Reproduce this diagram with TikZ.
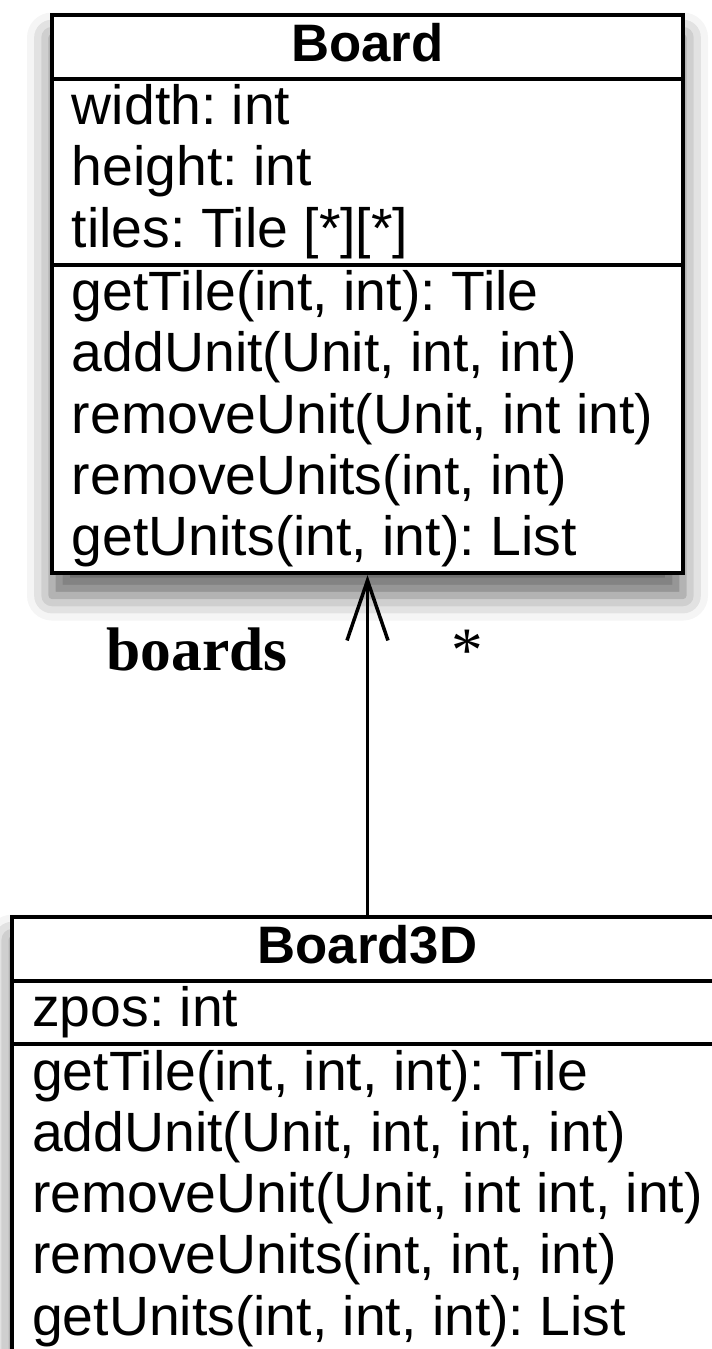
\documentclass[tikz,border=0pt]{standalone}
\usepackage{fontspec}
\setmainfont{Liberation Serif}
\setsansfont{Liberation Sans}
\usetikzlibrary{shapes.multipart, arrows.meta, positioning, shadows.blur}

\frenchspacing
\newcommand{\rowstrut}{\rule[-0.31cm]{0pt}{1.19cm}}

\tikzset{
  umlclass/.style={rectangle split, rectangle split parts=3, draw=black, line width=0.08cm, fill=white,
    inner xsep=0.4cm, inner ysep=0pt, rectangle split part align={center,left,left}, align=left,
    font=\sffamily\fontsize{31.5}{33.8}\selectfont,
    blur shadow={shadow xshift=0cm, shadow yshift=-0.45cm, shadow blur radius=0.5cm, shadow opacity=60}},
  classname/.style={font=\sffamily\bfseries\fontsize{30}{33.8}\selectfont},
  assoc/.style={line width=0.07cm, -{Straight Barb[length=1.2cm, width=0.82cm]}},
  rolelabel/.style={inner sep=0pt, font=\bfseries\fontsize{35}{40}\selectfont},
  multlabel/.style={inner sep=0pt, font=\fontsize{36}{40}\selectfont},
}

\begin{document}
\begin{tikzpicture}
\useasboundingbox (0,0) rectangle (14.22,-26.98);

% classes
\node (board) [umlclass, minimum width=12.62cm, anchor=north] at (7.35,-0.26) {%
  \rowstrut{\fontsize{30}{33.8}\selectfont\bfseries Board}
  \nodepart{second}
  \rowstrut width: int\\
  \rowstrut height: int\\
  \rowstrut tiles: Tile [*][*]
  \nodepart{third}
  \rowstrut getTile(int, int): Tile\\
  \rowstrut addUnit(Unit, int, int)\\
  \rowstrut removeUnit(Unit, int int)\\
  \rowstrut removeUnits(int, int)\\
  \rowstrut getUnits(int, int): List};
\node (board3d) [umlclass, minimum width=14.16cm, below=6.8cm of board] {%
  \rowstrut{\fontsize{30}{33.8}\selectfont\bfseries Board3D}
  \nodepart{second}
  \rowstrut zpos: int
  \nodepart{third}
  \rowstrut getTile(int, int, int): Tile\\
  \rowstrut addUnit(Unit, int, int, int)\\
  \rowstrut removeUnit(Unit, int int, int)\\
  \rowstrut removeUnits(int, int, int)\\
  \rowstrut getUnits(int, int, int): List};

% association
\draw [assoc] (board3d) -- (board);
\node (role) [rolelabel, below left=1.04cm and 1.59cm of board.south] {boards};
\node (mult) [multlabel, below right=1.1cm and 1.68cm of board.south] {*};
\end{tikzpicture}
\end{document}
